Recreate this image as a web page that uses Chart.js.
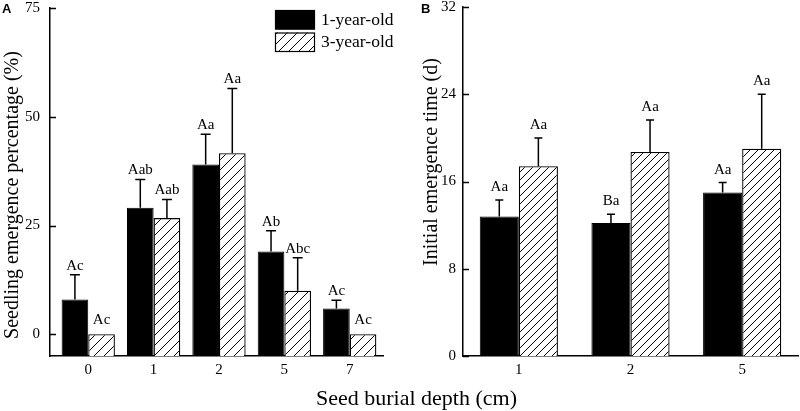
<!DOCTYPE html>
<html>
<head>
<meta charset="utf-8">
<script src="https://cdn.jsdelivr.net/npm/chart.js@4.4.1/dist/chart.umd.min.js"></script>
<style>
body { margin: 0; background: #fff; width: 800px; height: 411px; position: relative; overflow: hidden; font-family: "Liberation Serif", serif; }
canvas { position: absolute; top: 0; }
#cA { left: 0; }
#cB { left: 420px; }
.t { position: absolute; color: #000; white-space: nowrap; font-size: 20px; line-height: 20px; }
.rot { transform: translate(-50%, -50%) rotate(-90deg); }
.panel { position: absolute; top: 1px; font: bold 13px "Liberation Sans", sans-serif; color: #000; }
</style>
</head>
<body>
<canvas id="cA" width="420" height="411"></canvas>
<canvas id="cB" width="380" height="411"></canvas>
<div class="t rot" style="left:11px;top:195px">Seedling emergence percentage (%)</div>
<div class="t rot" style="left:430px;top:162px">Initial emergence time (d)</div>
<div class="t" style="left:316px;top:387px;font-size:22px;line-height:22px">Seed burial depth (cm)</div>
<div class="panel" style="left:2px">A</div>
<div class="panel" style="left:421px">B</div>
<script>
// panel A: seedling emergence (%)
const depthsA = ["0", "1", "2", "5", "7"];
const oneYearA = [8.0, 29.1, 39.0, 19.0, 5.9];
const oneYearErrA = [5.7, 6.5, 7.0, 4.8, 1.9];
const threeYearA = [0, 26.7, 41.6, 10.0, 0];
const threeYearErrA = [0, 4.3, 14.9, 7.6, 0];
const oneYearLettersA = ["Ac", "Aab", "Aa", "Ab", "Ac"];
const threeYearLettersA = ["Ac", "Aab", "Aa", "Abc", "Ac"];
const yTicksA = [0, 25, 50, 75];

// panel B: initial emergence time (d)
const depthsB = ["1", "2", "5"];
const oneYearB = [12.8, 12.2, 15.0];
const oneYearErrB = [1.5, 0.8, 0.9];
const threeYearB = [17.4, 18.7, 19.0];
const threeYearErrB = [2.6, 2.95, 5.0];
const oneYearLettersB = ["Aa", "Ba", "Aa"];
const threeYearLettersB = ["Aa", "Aa", "Aa"];
const yTicksB = [0, 8, 16, 24, 32];

const serif = "'Liberation Serif', 'Times New Roman', serif";

function hatch(ctx, step) {
  const c = document.createElement("canvas");
  c.width = step; c.height = step;
  const g = c.getContext("2d");
  g.fillStyle = "#fff";
  g.fillRect(0, 0, step, step);
  g.strokeStyle = "#000";
  g.lineWidth = 1;
  g.beginPath();
  g.moveTo(-1, step + 1); g.lineTo(step + 1, -1);
  g.moveTo(-1, 1); g.lineTo(1, -1);
  g.moveTo(step - 1, step + 1); g.lineTo(step + 1, step - 1);
  g.stroke();
  return ctx.createPattern(c, "repeat");
}

// error bars, letters and inward y ticks
const marks = {
  id: "marks",
  afterDatasetsDraw(chart, args, o) {
    const ctx = chart.ctx, y = chart.scales.y;
    ctx.save();
    ctx.strokeStyle = "#000";
    ctx.fillStyle = "#000";
    ctx.lineWidth = 1.5;
    ctx.font = "15px " + serif;
    ctx.textAlign = "center";
    ctx.textBaseline = "alphabetic";
    chart.data.datasets.forEach((ds, i) => {
      chart.getDatasetMeta(i).data.forEach((bar, j) => {
        const err = ds.errors[j];
        const top = y.getPixelForValue(ds.data[j] + err);
        if (err > 0) {
          ctx.beginPath();
          ctx.moveTo(bar.x, bar.y);
          ctx.lineTo(bar.x, top);
          ctx.moveTo(bar.x - o.cap / 2, top);
          ctx.lineTo(bar.x + o.cap / 2, top);
          ctx.stroke();
        }
        ctx.fillText(ds.letters[j], bar.x, top - (err > 0 ? o.gap : o.gap0));
      });
    });
    const left = chart.chartArea.left;
    ctx.beginPath();
    y.ticks.forEach(t => {
      const py = Math.round(y.getPixelForValue(t.value)) + 0.5;
      ctx.moveTo(left, py);
      ctx.lineTo(left + 6, py);
    });
    ctx.stroke();
    ctx.restore();
  }
};

const legendA = {
  id: "legendA",
  afterDraw(chart) {
    const ctx = chart.ctx;
    ctx.save();
    chart.data.datasets.forEach((ds, i) => {
      const y0 = 10 + i * 22.5;
      ctx.fillStyle = ds.backgroundColor;
      ctx.fillRect(275, y0, 40, 19.5);
      ctx.strokeStyle = "#000";
      ctx.lineWidth = 1.2;
      ctx.strokeRect(275.5, y0 + 0.5, 39, 18.5);
      ctx.fillStyle = "#000";
      ctx.font = "17.5px " + serif;
      ctx.textBaseline = "middle";
      ctx.textAlign = "left";
      ctx.fillText(ds.label, 321, y0 + 10);
    });
    ctx.restore();
  }
};

function axes(yMin, yMax, yTicks, yWidth, yPad, xHack) {
  const x = {
    grid: { display: false, drawTicks: false },
    border: { color: "#000", width: 1.5 },
    ticks: { color: "#000", font: { family: serif, size: 15 }, padding: 5 },
    afterFit: s => { s.height = 55; s.paddingLeft = 0; s.paddingRight = 0; }
  };
  if (xHack) x.afterBuildTicks = s => { s._startValue = xHack[0]; s._valueRange = xHack[1]; };
  return {
    x: x,
    y: {
      min: yMin, max: yMax,
      afterBuildTicks: s => { s.ticks = yTicks.map(v => ({ value: v })); },
      grid: { display: false, drawTicks: false },
      border: { color: "#000", width: 1.5 },
      ticks: { color: "#000", font: { family: serif, size: 15 }, padding: yPad },
      afterFit: s => { s.width = yWidth; s.paddingTop = 0; s.paddingBottom = 0; }
    }
  };
}

const ctxA = document.getElementById("cA").getContext("2d");
new Chart(ctxA, {
  type: "bar",
  data: {
    labels: depthsA,
    datasets: [
      { label: "1-year-old", data: oneYearA, errors: oneYearErrA, letters: oneYearLettersA,
        backgroundColor: "#000", borderColor: "#000", borderWidth: 1, base: -5 },
      { label: "3-year-old", data: threeYearA, errors: threeYearErrA, letters: threeYearLettersA,
        backgroundColor: hatch(ctxA, 10), borderColor: "#000", borderWidth: 1.3, base: -5 }
    ]
  },
  options: {
    responsive: false, animation: false,
    layout: { padding: { left: 0, right: 37, top: 8, bottom: 0 } },
    datasets: { bar: { categoryPercentage: 0.815, barPercentage: 1 } },
    plugins: { legend: { display: false }, tooltip: { enabled: false }, marks: { cap: 10, gap: 5, gap0: 10 } },
    scales: axes(-5, 75, yTicksA, 50, 10, [-0.585, 5.094])
  },
  plugins: [marks, legendA]
});

const ctxB = document.getElementById("cB").getContext("2d");
new Chart(ctxB, {
  type: "bar",
  data: {
    labels: depthsB,
    datasets: [
      { label: "1-year-old", data: oneYearB, errors: oneYearErrB, letters: oneYearLettersB,
        backgroundColor: "#000", borderColor: "#000", borderWidth: 1 },
      { label: "3-year-old", data: threeYearB, errors: threeYearErrB, letters: threeYearLettersB,
        backgroundColor: hatch(ctxB, 8), borderColor: "#000", borderWidth: 1.3 }
    ]
  },
  options: {
    responsive: false, animation: false,
    layout: { padding: { left: 0, right: 2, top: 7, bottom: 0 } },
    datasets: { bar: { categoryPercentage: 0.70, barPercentage: 1 } },
    plugins: { legend: { display: false }, tooltip: { enabled: false }, marks: { cap: 8, gap: 9, gap0: 10 } },
    scales: axes(0, 32, yTicksB, 43, 7, null)
  },
  plugins: [marks]
});
</script>
</body>
</html>
